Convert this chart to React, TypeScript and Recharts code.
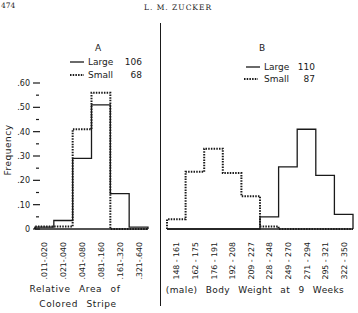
import { LineChart, Line, XAxis, YAxis } from "recharts";

// Panel A: relative area of colored stripe
const AREA_BINS = [".011-.020", ".021-.040", ".041-.080", ".081-.160", ".161-.320", ".321-.640"];
const AREA_LARGE = [0.008, 0.035, 0.29, 0.51, 0.145, 0.008];
const AREA_SMALL = [0.01, 0.01, 0.41, 0.56, 0, 0];

// Panel B: body weight at 9 weeks
const WEIGHT_BINS = [
    "148 - 161", "162 - 175", "176 - 191", "192 - 208", "209 - 227",
    "228 - 248", "249 - 270", "271 - 294", "295 - 321", "322 - 350",
];
const WEIGHT_LARGE = [0, 0, 0, 0, 0, 0.05, 0.255, 0.41, 0.22, 0.06];
const WEIGHT_SMALL = [0.04, 0.235, 0.33, 0.23, 0.135, 0.01, 0, 0, 0, 0];

const Y_TICKS = [0, 0.05, 0.1, 0.15, 0.2, 0.25, 0.3, 0.35, 0.4, 0.45, 0.5, 0.55, 0.6];

const INK = "#1a1a1a";
const FONT = "'DejaVu Sans', sans-serif";

// histogram outline: rise at the first edge, step across each bin, drop at the last edge
const stepRows = (large: number[], small: number[]) => {
    const rows = [{ e: 0, large: 0, small: 0 }];
    large.forEach((v, i) => rows.push({ e: i, large: v, small: small[i] }));
    rows.push({ e: large.length, large: 0, small: 0 });
    return rows;
};

const binTicks = (n: number) => Array.from({ length: n }, (_, i) => i + 0.5);

const BinTick = ({ x, y, payload, labels }: any) => (
    <text
        transform={`translate(${x + 3},${y + 13}) rotate(-90)`}
        textAnchor="end"
        fontSize={7.8}
        fontFamily={FONT}
        fill={INK}
    >
        {labels[Math.floor(payload.value)]}
    </text>
);

const FreqTick = ({ x, y, payload }: any) => {
    const v = Math.round(payload.value * 100);
    const major = v % 10 === 0;
    const label = v === 0 ? "0" : "." + String(v).padStart(2, "0");
    return (
        <g>
            <line x1={major ? x - 2 : x + 1} x2={major ? x + 5 : x + 4} y1={y} y2={y} stroke={INK} strokeWidth={1.2} />
            {major && (
                <text x={x - 5} y={y + 3} textAnchor="end" fontSize={8} fontFamily={FONT} fill={INK}>
                    {label}
                </text>
            )}
        </g>
    );
};

const Txt = ({ x, y, children, anchor = "middle", size = 9, style = {} }: any) => (
    <div
        style={{
            position: "absolute",
            left: x,
            top: y,
            transform: `translate(${anchor === "middle" ? "-50%" : anchor === "end" ? "-100%" : "0"}, -50%)`,
            fontFamily: FONT,
            fontSize: size,
            color: INK,
            whiteSpace: "nowrap",
            lineHeight: 1,
            ...style,
        }}
    >
        {children}
    </div>
);

const Swatch = ({ x, y, dotted }: any) => (
    <svg style={{ position: "absolute", left: x, top: y - 2 }} width={14} height={4}>
        <line x1={0} x2={14} y1={2} y2={2} stroke={INK} strokeWidth={dotted ? 2 : 1.3} strokeDasharray={dotted ? "1.5 1.2" : undefined} />
    </svg>
);

const App = () => {
    const areaData = stepRows(AREA_LARGE, AREA_SMALL);
    const weightData = stepRows(WEIGHT_LARGE, WEIGHT_SMALL);

    return (
        <div style={{ position: "absolute", left: 0, top: 0, width: 358, height: 313, background: "#fff", overflow: "hidden" }}>
            {/* page header */}
            <Txt x={1} y={6} anchor="start" size={7.5} style={{ fontFamily: "'DejaVu Serif', serif" }}>474</Txt>
            <Txt x={178} y={8} size={7.5} style={{ fontFamily: "'DejaVu Serif', serif", letterSpacing: 1 }}>L. M. ZUCKER</Txt>

            {/* divider between panels */}
            <div style={{ position: "absolute", left: 160, top: 23, width: 0, height: 283, borderLeft: `1.5px solid ${INK}` }} />

            {/* Panel A */}
            <Txt x={98} y={48}>A</Txt>
            <Swatch x={70} y={62} />
            <Txt x={88} y={62} anchor="start">Large</Txt>
            <Txt x={142} y={62} anchor="end">106</Txt>
            <Swatch x={70} y={75} dotted />
            <Txt x={88} y={75} anchor="start">Small</Txt>
            <Txt x={142} y={75} anchor="end">68</Txt>

            <Txt x={8} y={150} style={{ transform: "translate(-50%, -50%) rotate(-90deg)", letterSpacing: 0.5 }}>Frequency</Txt>

            <div style={{ position: "absolute", left: 0, top: 0 }}>
                <LineChart width={161} height={313} data={areaData} margin={{ top: 83, right: 13, bottom: 34, left: 0 }}>
                    <XAxis
                        type="number"
                        dataKey="e"
                        domain={[0, AREA_BINS.length]}
                        ticks={binTicks(AREA_BINS.length)}
                        interval={0}
                        height={50}
                        tickSize={0}
                        tickMargin={0}
                        axisLine={{ stroke: INK, strokeWidth: 1.3 }}
                        tick={<BinTick labels={AREA_BINS} />}
                    />
                    <YAxis
                        domain={[0, 0.6]}
                        ticks={Y_TICKS}
                        interval={0}
                        width={35}
                        tickSize={0}
                        tickMargin={0}
                        axisLine={false}
                        tick={<FreqTick />}
                    />
                    <Line type="stepAfter" dataKey="large" stroke={INK} strokeWidth={1.3} dot={false} isAnimationActive={false} />
                    <Line type="stepAfter" dataKey="small" stroke={INK} strokeWidth={2} strokeDasharray="1.5 1.2" dot={false} isAnimationActive={false} />
                </LineChart>
            </div>

            <Txt x={75} y={289} style={{ wordSpacing: 5, letterSpacing: 0.6 }}>Relative Area of</Txt>
            <Txt x={78} y={304} style={{ wordSpacing: 5, letterSpacing: 0.6 }}>Colored Stripe</Txt>

            {/* Panel B */}
            <Txt x={262} y={48}>B</Txt>
            <Swatch x={246} y={67} />
            <Txt x={264} y={67} anchor="start">Large</Txt>
            <Txt x={315} y={67} anchor="end">110</Txt>
            <Swatch x={244} y={79} dotted />
            <Txt x={264} y={79} anchor="start">Small</Txt>
            <Txt x={315} y={79} anchor="end">87</Txt>

            <div style={{ position: "absolute", left: 161, top: 0 }}>
                <LineChart width={197} height={313} data={weightData} margin={{ top: 83, right: 5, bottom: 34, left: 6 }}>
                    <XAxis
                        type="number"
                        dataKey="e"
                        domain={[0, WEIGHT_BINS.length]}
                        ticks={binTicks(WEIGHT_BINS.length)}
                        interval={0}
                        height={50}
                        tickSize={0}
                        tickMargin={0}
                        axisLine={{ stroke: INK, strokeWidth: 1.3 }}
                        tick={<BinTick labels={WEIGHT_BINS} />}
                    />
                    <YAxis hide domain={[0, 0.6]} />
                    <Line type="stepAfter" dataKey="large" stroke={INK} strokeWidth={1.3} dot={false} isAnimationActive={false} />
                    <Line type="stepAfter" dataKey="small" stroke={INK} strokeWidth={2} strokeDasharray="1.5 1.2" dot={false} isAnimationActive={false} />
                </LineChart>
            </div>

            <Txt x={255} y={290} style={{ wordSpacing: 5, letterSpacing: 0.4 }}>(male) Body Weight at 9 Weeks</Txt>
        </div>
    );
};

export default App;
